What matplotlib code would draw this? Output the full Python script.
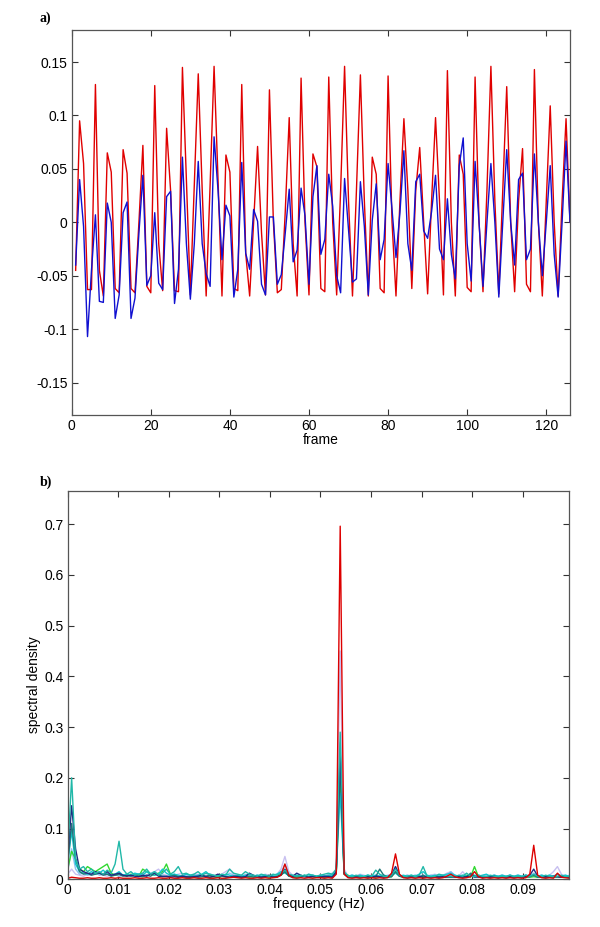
import matplotlib
matplotlib.use("Agg")
import matplotlib.pyplot as plt
import numpy as np

plt.rcParams['font.family'] = ['Liberation Sans', 'DejaVu Sans']
plt.rcParams['font.size'] = 10

# ---- panel a: frame series ----
frames = np.arange(1, 127)

red = [
    -0.045, 0.095, 0.055, -0.063, -0.063, 0.129, -0.045, -0.069, 0.065, 0.047,
    -0.062, -0.066, 0.068, 0.046, -0.062, -0.066, 0.000, 0.072, -0.060, -0.066,
    0.128, -0.020, -0.064, 0.088, 0.030, -0.064, -0.065, 0.145, 0.040, -0.068,
    0.035, 0.139, 0.030, -0.069, 0.035, 0.146, 0.040, -0.069, 0.063, 0.047,
    -0.062, -0.064, 0.129, -0.029, -0.069, 0.000, 0.071, -0.010, -0.068, 0.124,
    0.000, -0.066, -0.063, 0.010, 0.098, -0.020, -0.069, 0.135, 0.000, -0.068,
    0.064, 0.052, -0.062, -0.065, 0.136, 0.000, -0.068, 0.030, 0.146, 0.020,
    -0.069, 0.030, 0.138, 0.020, -0.069, 0.061, 0.045, -0.062, -0.066, 0.137,
    0.000, -0.069, 0.020, 0.097, 0.030, -0.062, 0.030, 0.070, 0.000, -0.067,
    0.020, 0.098, 0.020, -0.068, 0.142, 0.000, -0.069, 0.063, 0.045, -0.061,
    -0.065, 0.136, 0.000, -0.065, 0.030, 0.146, 0.020, -0.067, 0.030, 0.127,
    0.000, -0.065, 0.020, 0.069, -0.058, -0.065, 0.143, 0.000, -0.069, 0.020,
    0.109, 0.000, -0.069, 0.020, 0.097, 0.000,
]

blue = [
    -0.040, 0.040, -0.004, -0.107, -0.045, 0.007, -0.074, -0.075, 0.018, 0.000,
    -0.090, -0.068, 0.009, 0.019, -0.090, -0.071, -0.010, 0.044, -0.059, -0.050,
    0.009, -0.057, -0.063, 0.024, 0.029, -0.076, -0.044, 0.061, -0.020, -0.072,
    -0.020, 0.057, -0.020, -0.048, -0.060, 0.080, 0.030, -0.035, 0.016, 0.006,
    -0.070, -0.044, 0.056, -0.029, -0.044, 0.012, 0.001, -0.058, -0.068, 0.005,
    0.005, -0.058, -0.049, -0.010, 0.031, -0.037, -0.026, 0.032, 0.006, -0.058,
    0.024, 0.053, -0.030, -0.016, 0.045, 0.015, -0.050, -0.066, 0.041, -0.007,
    -0.056, -0.053, 0.038, -0.004, -0.068, 0.002, 0.036, -0.035, -0.016, 0.055,
    0.012, -0.033, 0.009, 0.067, -0.020, -0.045, 0.038, 0.045, -0.008, -0.015,
    0.010, 0.044, -0.025, -0.035, 0.022, -0.030, -0.053, 0.053, 0.079, -0.020,
    -0.055, 0.057, 0.000, -0.060, 0.000, 0.055, 0.000, -0.070, 0.000, 0.068,
    0.000, -0.040, 0.040, 0.046, -0.035, -0.025, 0.064, 0.000, -0.050, 0.000,
    0.053, -0.030, -0.070, 0.000, 0.076, 0.000,
]

# ---- panel b: spectra, 128 bins of 0.2 Hz / 256 ----
freq = np.arange(128) * 0.2 / 256

spec_red = [
    0.002, 0.004, 0.003, 0.002, 0.002, 0.003, 0.002, 0.002, 0.003, 0.002, 0.002, 0.003, 0.002, 0.003, 0.002, 0.002,
    0.002, 0.003, 0.002, 0.002, 0.003, 0.002, 0.002, 0.003, 0.002, 0.002, 0.003, 0.002, 0.002, 0.003, 0.002, 0.002,
    0.003, 0.002, 0.002, 0.003, 0.002, 0.002, 0.003, 0.002, 0.002, 0.003, 0.004, 0.003, 0.002, 0.003, 0.002, 0.002,
    0.003, 0.002, 0.003, 0.002, 0.003, 0.004, 0.008, 0.030, 0.008, 0.003, 0.002, 0.003, 0.002, 0.003, 0.002, 0.003,
    0.003, 0.002, 0.003, 0.002, 0.010, 0.696, 0.010, 0.003, 0.002, 0.003, 0.002, 0.003, 0.002, 0.003, 0.002, 0.003,
    0.002, 0.003, 0.012, 0.050, 0.010, 0.003, 0.002, 0.003, 0.002, 0.003, 0.002, 0.003, 0.002, 0.003, 0.002, 0.003,
    0.006, 0.010, 0.005, 0.003, 0.002, 0.003, 0.005, 0.015, 0.005, 0.002, 0.003, 0.002, 0.003, 0.002, 0.003, 0.002,
    0.003, 0.002, 0.003, 0.002, 0.003, 0.010, 0.067, 0.008, 0.003, 0.002, 0.003, 0.002, 0.012, 0.004, 0.003, 0.002,
]
spec_teal = [
    0.050, 0.200, 0.040, 0.020, 0.025, 0.015, 0.020, 0.012, 0.015, 0.010, 0.018, 0.012, 0.030, 0.075, 0.020, 0.010,
    0.015, 0.008, 0.010, 0.012, 0.020, 0.010, 0.015, 0.008, 0.012, 0.020, 0.010, 0.015, 0.025, 0.010, 0.012, 0.008,
    0.010, 0.015, 0.008, 0.012, 0.010, 0.008, 0.006, 0.010, 0.008, 0.020, 0.012, 0.010, 0.008, 0.015, 0.010, 0.008,
    0.006, 0.010, 0.008, 0.006, 0.010, 0.008, 0.012, 0.018, 0.010, 0.008, 0.006, 0.008, 0.006, 0.010, 0.008, 0.006,
    0.008, 0.010, 0.012, 0.010, 0.020, 0.290, 0.015, 0.006, 0.005, 0.008, 0.006, 0.005, 0.008, 0.006, 0.018, 0.010,
    0.006, 0.005, 0.008, 0.020, 0.008, 0.005, 0.006, 0.008, 0.005, 0.008, 0.025, 0.006, 0.005, 0.006, 0.010, 0.008,
    0.005, 0.006, 0.005, 0.008, 0.006, 0.012, 0.006, 0.005, 0.008, 0.006, 0.005, 0.008, 0.006, 0.005, 0.006, 0.005,
    0.008, 0.005, 0.006, 0.005, 0.008, 0.006, 0.010, 0.006, 0.005, 0.008, 0.006, 0.005, 0.006, 0.008, 0.005, 0.006,
]
spec_cyan = [
    0.030, 0.095, 0.030, 0.015, 0.012, 0.010, 0.015, 0.010, 0.012, 0.018, 0.010, 0.008, 0.010, 0.015, 0.008, 0.010,
    0.008, 0.012, 0.010, 0.008, 0.015, 0.010, 0.008, 0.010, 0.020, 0.012, 0.008, 0.010, 0.008, 0.006, 0.010, 0.008,
    0.006, 0.008, 0.010, 0.015, 0.008, 0.006, 0.008, 0.006, 0.010, 0.008, 0.006, 0.008, 0.006, 0.008, 0.010, 0.006,
    0.008, 0.006, 0.008, 0.006, 0.008, 0.010, 0.015, 0.012, 0.008, 0.006, 0.008, 0.006, 0.008, 0.006, 0.008, 0.006,
    0.008, 0.006, 0.008, 0.008, 0.015, 0.170, 0.012, 0.006, 0.008, 0.006, 0.008, 0.006, 0.008, 0.006, 0.008, 0.006,
    0.008, 0.006, 0.008, 0.012, 0.006, 0.008, 0.006, 0.008, 0.006, 0.010, 0.015, 0.008, 0.006, 0.008, 0.006, 0.008,
    0.010, 0.012, 0.008, 0.006, 0.008, 0.006, 0.010, 0.008, 0.006, 0.008, 0.010, 0.006, 0.008, 0.006, 0.008, 0.006,
    0.008, 0.006, 0.008, 0.006, 0.008, 0.006, 0.008, 0.006, 0.008, 0.006, 0.008, 0.006, 0.010, 0.006, 0.008, 0.006,
]
spec_navy = [
    0.040, 0.145, 0.060, 0.020, 0.015, 0.012, 0.010, 0.015, 0.012, 0.010, 0.015, 0.008, 0.010, 0.012, 0.008, 0.006,
    0.008, 0.006, 0.005, 0.008, 0.006, 0.010, 0.012, 0.006, 0.005, 0.006, 0.004, 0.005, 0.004, 0.006, 0.005, 0.004,
    0.005, 0.006, 0.008, 0.005, 0.004, 0.006, 0.010, 0.008, 0.005, 0.004, 0.006, 0.005, 0.004, 0.005, 0.012, 0.008,
    0.005, 0.004, 0.005, 0.006, 0.004, 0.005, 0.010, 0.020, 0.008, 0.006, 0.012, 0.008, 0.005, 0.004, 0.006, 0.005,
    0.004, 0.006, 0.005, 0.004, 0.015, 0.250, 0.012, 0.004, 0.005, 0.004, 0.005, 0.004, 0.005, 0.004, 0.006, 0.005,
    0.004, 0.005, 0.008, 0.025, 0.008, 0.004, 0.005, 0.004, 0.005, 0.006, 0.004, 0.005, 0.004, 0.005, 0.004, 0.005,
    0.004, 0.006, 0.004, 0.005, 0.004, 0.005, 0.008, 0.004, 0.005, 0.004, 0.005, 0.004, 0.006, 0.004, 0.005, 0.004,
    0.005, 0.004, 0.005, 0.004, 0.006, 0.008, 0.020, 0.006, 0.004, 0.005, 0.004, 0.006, 0.005, 0.004, 0.005, 0.004,
]
spec_dteal = [
    0.030, 0.110, 0.040, 0.015, 0.010, 0.012, 0.008, 0.010, 0.012, 0.008, 0.010, 0.006, 0.008, 0.010, 0.006, 0.008,
    0.006, 0.008, 0.006, 0.005, 0.008, 0.006, 0.012, 0.008, 0.006, 0.005, 0.006, 0.008, 0.005, 0.006, 0.004, 0.005,
    0.006, 0.004, 0.005, 0.006, 0.008, 0.005, 0.004, 0.006, 0.005, 0.004, 0.005, 0.006, 0.004, 0.005, 0.006, 0.004,
    0.005, 0.004, 0.006, 0.008, 0.005, 0.004, 0.008, 0.015, 0.006, 0.004, 0.005, 0.004, 0.006, 0.004, 0.005, 0.004,
    0.005, 0.004, 0.006, 0.005, 0.012, 0.230, 0.010, 0.004, 0.005, 0.004, 0.005, 0.004, 0.005, 0.004, 0.005, 0.020,
    0.008, 0.004, 0.005, 0.015, 0.006, 0.004, 0.005, 0.004, 0.005, 0.004, 0.008, 0.004, 0.005, 0.004, 0.005, 0.004,
    0.005, 0.004, 0.005, 0.004, 0.005, 0.004, 0.012, 0.006, 0.004, 0.005, 0.004, 0.005, 0.004, 0.005, 0.004, 0.005,
    0.004, 0.005, 0.004, 0.005, 0.004, 0.005, 0.008, 0.004, 0.005, 0.004, 0.005, 0.004, 0.005, 0.004, 0.005, 0.004,
]
spec_green = [
    0.020, 0.055, 0.040, 0.020, 0.015, 0.025, 0.020, 0.015, 0.020, 0.025, 0.030, 0.012, 0.008, 0.010, 0.008, 0.006,
    0.010, 0.008, 0.006, 0.020, 0.015, 0.010, 0.008, 0.012, 0.015, 0.030, 0.010, 0.008, 0.005, 0.006, 0.004, 0.005,
    0.004, 0.006, 0.008, 0.005, 0.004, 0.005, 0.004, 0.006, 0.005, 0.004, 0.005, 0.006, 0.004, 0.005, 0.004, 0.006,
    0.005, 0.004, 0.005, 0.004, 0.005, 0.006, 0.008, 0.015, 0.006, 0.005, 0.004, 0.005, 0.008, 0.004, 0.005, 0.004,
    0.005, 0.004, 0.005, 0.006, 0.012, 0.200, 0.010, 0.008, 0.004, 0.005, 0.004, 0.005, 0.004, 0.005, 0.004, 0.005,
    0.006, 0.004, 0.005, 0.015, 0.006, 0.004, 0.005, 0.004, 0.006, 0.004, 0.005, 0.004, 0.005, 0.004, 0.005, 0.004,
    0.005, 0.004, 0.006, 0.004, 0.005, 0.008, 0.004, 0.025, 0.005, 0.004, 0.005, 0.004, 0.005, 0.004, 0.005, 0.004,
    0.005, 0.004, 0.005, 0.004, 0.005, 0.004, 0.005, 0.004, 0.005, 0.004, 0.005, 0.004, 0.005, 0.004, 0.005, 0.004,
]
spec_lav = [
    0.010, 0.020, 0.010, 0.008, 0.006, 0.010, 0.008, 0.012, 0.010, 0.008, 0.006, 0.008, 0.010, 0.006, 0.008, 0.010,
    0.006, 0.008, 0.010, 0.012, 0.008, 0.010, 0.015, 0.020, 0.010, 0.008, 0.006, 0.008, 0.010, 0.012, 0.008, 0.006,
    0.008, 0.010, 0.006, 0.008, 0.010, 0.006, 0.008, 0.010, 0.015, 0.020, 0.010, 0.008, 0.006, 0.010, 0.008, 0.006,
    0.008, 0.006, 0.010, 0.008, 0.006, 0.010, 0.020, 0.045, 0.015, 0.008, 0.006, 0.008, 0.006, 0.010, 0.008, 0.006,
    0.008, 0.006, 0.010, 0.012, 0.020, 0.450, 0.020, 0.006, 0.008, 0.006, 0.010, 0.008, 0.006, 0.008, 0.006, 0.008,
    0.006, 0.008, 0.010, 0.015, 0.008, 0.006, 0.008, 0.006, 0.008, 0.006, 0.008, 0.006, 0.008, 0.010, 0.006, 0.008,
    0.012, 0.015, 0.008, 0.006, 0.015, 0.006, 0.008, 0.006, 0.008, 0.006, 0.008, 0.006, 0.008, 0.006, 0.008, 0.006,
    0.008, 0.006, 0.008, 0.006, 0.008, 0.006, 0.008, 0.006, 0.008, 0.006, 0.008, 0.015, 0.025, 0.010, 0.006, 0.008,
]
spec_lblue = [
    0.015, 0.060, 0.020, 0.010, 0.012, 0.008, 0.010, 0.015, 0.008, 0.010, 0.012, 0.008, 0.010, 0.006, 0.008, 0.010,
    0.006, 0.008, 0.010, 0.006, 0.008, 0.012, 0.015, 0.010, 0.008, 0.006, 0.008, 0.010, 0.006, 0.008, 0.006, 0.008,
    0.010, 0.006, 0.008, 0.006, 0.010, 0.008, 0.006, 0.008, 0.006, 0.012, 0.008, 0.006, 0.008, 0.006, 0.008, 0.006,
    0.008, 0.006, 0.008, 0.006, 0.008, 0.010, 0.012, 0.030, 0.010, 0.006, 0.008, 0.006, 0.008, 0.006, 0.008, 0.006,
    0.008, 0.006, 0.008, 0.010, 0.015, 0.270, 0.015, 0.006, 0.008, 0.006, 0.008, 0.006, 0.008, 0.006, 0.008, 0.006,
    0.008, 0.006, 0.010, 0.025, 0.008, 0.006, 0.008, 0.006, 0.008, 0.006, 0.008, 0.006, 0.008, 0.006, 0.008, 0.006,
    0.008, 0.015, 0.008, 0.006, 0.008, 0.006, 0.008, 0.006, 0.008, 0.006, 0.008, 0.006, 0.008, 0.006, 0.008, 0.006,
    0.008, 0.006, 0.008, 0.006, 0.008, 0.006, 0.012, 0.006, 0.008, 0.006, 0.008, 0.006, 0.010, 0.006, 0.008, 0.006,
]

spectra = [
    (spec_lav, '#c8c0f0'),
    (spec_lblue, '#8cc0f0'),
    (spec_green, '#30d830'),
    (spec_cyan, '#10c8d0'),
    (spec_dteal, '#207878'),
    (spec_navy, '#202a80'),
    (spec_teal, '#20b8a8'),
    (spec_red, '#dd0000'),
]

fig = plt.figure(figsize=(6, 9.27), dpi=100)

ax1 = fig.add_axes([0.1195, 0.5528, 0.8305, 0.4148])
ax1.plot(frames, red, color='#e00000', lw=1.0)
ax1.plot(frames, blue, color='#1010d0', lw=1.0)
ax1.set_xlim(0, 126)
ax1.set_ylim(-0.18, 0.18)
ax1.set_xticks([0, 20, 40, 60, 80, 100, 120])
ax1.set_yticks([-0.15, -0.1, -0.05, 0, 0.05, 0.1, 0.15])
ax1.set_yticklabels(['-0.15', '-0.1', '-0.05', '0', '0.05', '0.1', '0.15'])
ax1.set_xlabel('frame', labelpad=0)

ax2 = fig.add_axes([0.1128, 0.0515, 0.836, 0.4192])
for vals, col in spectra:
    ax2.plot(freq, vals, color=col, lw=1.0)
ax2.set_xlim(0, 127 * 0.2 / 256)
ax2.set_ylim(0, 0.766)
ax2.set_xticks(np.arange(10) * 0.01)
ax2.set_xticklabels(['0'] + ['%.2f' % (i * 0.01) for i in range(1, 10)])
ax2.set_yticks(np.arange(8) * 0.1)
ax2.set_yticklabels(['0'] + ['%.1f' % (i * 0.1) for i in range(1, 8)])
ax2.set_xlabel('frequency (Hz)', labelpad=0)
ax2.set_ylabel('spectral density', labelpad=2)

for ax in (ax1, ax2):
    ax.tick_params(direction='in', top=True, right=True, length=4, width=0.8,
                   color='#333333', labelsize=10, pad=3)
    for s in ax.spines.values():
        s.set_color('#555555')
        s.set_linewidth(0.9)

fig.text(0.066, 0.976, 'a)', fontsize=10, fontweight='bold', family='Liberation Serif')
fig.text(0.066, 0.476, 'b)', fontsize=10, fontweight='bold', family='Liberation Serif')

fig.savefig('out.png', dpi=100)
